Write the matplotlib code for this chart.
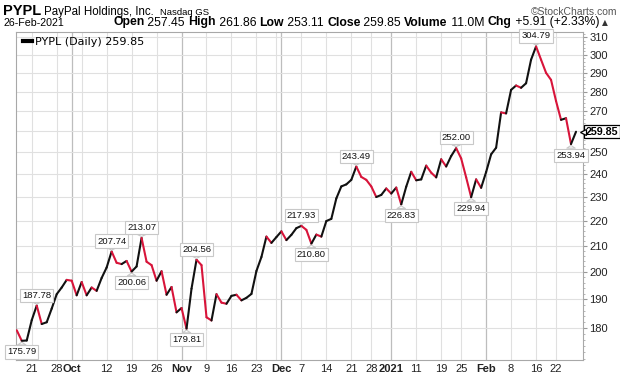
import numpy as np
import pandas as pd
import matplotlib
matplotlib.use("Agg")
import matplotlib.pyplot as plt
from matplotlib.collections import LineCollection
from matplotlib.lines import Line2D
from matplotlib.ticker import FixedLocator, NullFormatter, FixedFormatter

# ---------------- data ----------------
ticker = "PYPL"
company = "PayPal Holdings, Inc."
exchange = "Nasdaq GS"
last_date = "26-Feb-2021"
open_px, high_px, low_px, close_px = 257.45, 261.86, 253.11, 259.85
volume = "11.0M"
chg, chg_pct = 5.91, 2.33

holidays = ["2020-11-26", "2020-12-25", "2021-01-01", "2021-01-18", "2021-02-15"]
dates = pd.bdate_range("2020-09-16", "2021-02-26")
dates = dates[~dates.isin(pd.to_datetime(holidays))]

closes = [
    179.3, 175.79, 175.9, 182.7, 187.78, 181.4, 182.0, 186.7, 191.8, 194.2,
    197.0, 196.7, 191.4, 196.2, 191.4, 194.2, 193.0, 197.7, 201.6, 207.74,
    203.4, 202.9, 204.1, 200.06, 202.0, 213.07, 203.8, 202.5, 196.7, 200.2,
    191.6, 194.4, 185.4, 186.9, 179.81, 193.8, 204.56, 202.5, 183.7, 182.6,
    191.8, 188.8, 188.4, 191.2, 191.6, 189.6, 190.5, 191.9, 200.3, 205.6,
    213.6, 211.1, 213.4, 215.7, 212.2, 214.3, 217.0, 217.93, 216.3, 210.80,
    214.4, 213.6, 219.9, 220.8, 229.4, 234.6, 235.5, 237.5, 243.49, 238.8,
    237.5, 234.6, 230.0, 230.9, 233.7, 231.5, 234.1, 226.83, 234.5, 241.1,
    237.3, 237.7, 243.9, 240.7, 238.6, 246.8, 243.5, 248.3, 252.00, 247.2,
    238.6, 229.94, 237.7, 234.0, 241.0, 249.1, 252.2, 269.4, 268.9, 281.0,
    283.3, 282.1, 284.5, 297.3, 304.79, 297.3, 290.1, 286.3, 275.2, 265.7,
    266.5, 253.94, 259.85,
]
assert len(closes) == len(dates)

# annotated swing points (index, 'above'/'below')
ann_idx = [1, 4, 19, 23, 25, 34, 36, 57, 59, 68, 77, 88, 91, 104, 111]
ann_pos = ["below", "above", "above", "below", "above", "below", "above",
           "above", "below", "above", "below", "above", "below", "above", "below"]

y_ticks = list(range(180, 311, 10))

# ---------------- figure ----------------
W, H = 620, 376
fig = plt.figure(figsize=(W / 100, H / 100), dpi=100)
ax_l, ax_r, ax_t, ax_b = 16, 583, 32, 360
ax = fig.add_axes([ax_l / W, 1 - ax_b / H, (ax_r - ax_l) / W, (ax_b - ax_t) / H])

x = np.arange(len(closes))
y = np.array(closes)

ax.set_yscale("log")
ax.set_ylim(169.6, 313.1)
ax.set_xlim(-0.15, len(closes) + 0.4)

UP, DOWN = "#111111", "#d8143a"
segs = [[(x[i], y[i]), (x[i + 1], y[i + 1])] for i in range(len(y) - 1)]
cols = [DOWN if y[i + 1] < y[i] else UP for i in range(len(y) - 1)]
lc = LineCollection(segs, colors=cols, linewidths=1.5, capstyle="round",
                    joinstyle="round", zorder=3)
ax.add_collection(lc)

# ---- x ticks: week starts & month starts ----
d = pd.Series(dates)
week_start = [i for i in range(1, len(d)) if d[i].isocalendar()[1] != d[i - 1].isocalendar()[1]]
month_start = [i for i in range(1, len(d)) if d[i].month != d[i - 1].month]

tick_pos, tick_lab, tick_bold = [], [], []
for i in sorted(set(week_start) | set(month_start)):
    if i in month_start:
        lab = str(d[i].year) if d[i].month == 1 else d[i].strftime("%b")
        tick_pos.append(i); tick_lab.append(lab); tick_bold.append(True)
    else:
        if any(abs(i - m) <= 2 for m in month_start):
            continue
        tick_pos.append(i); tick_lab.append(str(d[i].day)); tick_bold.append(False)

for i in week_start:
    if i not in month_start:
        ax.axvline(i, color="#e0e0e0", lw=0.8, zorder=0)
for i in month_start:
    ax.axvline(i, color="#bdbdbd", lw=0.9, zorder=0)
for v in y_ticks:
    ax.axhline(v, color="#e0e0e0", lw=0.8, zorder=0)

ax.set_xticks(tick_pos)
ax.set_xticklabels(tick_lab)
for t, b in zip(ax.get_xticklabels(), tick_bold):
    t.set_fontfamily("Liberation Sans")
    t.set_fontsize(8)
    t.set_color("#222222")
    if b:
        t.set_fontweight("bold")
ax.tick_params(axis="x", length=0, pad=3)

# hide the axis label that the last-price tag sits on
y_labels = ["" if abs(np.log(v / closes[-1])) < 0.02 else str(v) for v in y_ticks]
ax.yaxis.tick_right()
ax.yaxis.set_major_locator(FixedLocator(y_ticks))
ax.yaxis.set_major_formatter(FixedFormatter(y_labels))
ax.yaxis.set_minor_locator(FixedLocator(np.arange(170, 314, 2)))
ax.yaxis.set_minor_formatter(NullFormatter())
ax.tick_params(axis="y", which="major", length=3, width=0.8, color="#999999",
               pad=1.5, labelsize=8, labelcolor="#222222")
ax.tick_params(axis="y", which="minor", length=1.5, width=0.6, color="#aaaaaa")
for t in ax.get_yticklabels():
    t.set_fontfamily("Liberation Sans")

for s in ax.spines.values():
    s.set_color("#a8a8a8")
    s.set_linewidth(0.8)

# ---- swing annotations ----
for i, pos in zip(ann_idx, ann_pos):
    off = 7.5 if pos == "above" else -8.0
    ax.annotate(f"{closes[i]:.2f}", xy=(x[i], y[i]), xytext=(0, off),
                textcoords="offset points", ha="center", va="center",
                fontsize=6.8, family="Liberation Sans", color="#111111",
                bbox=dict(boxstyle="square,pad=0.22", fc="white", ec="#c8c8c8", lw=0.8),
                arrowprops=dict(arrowstyle="wedge,tail_width=0.6", mutation_scale=10,
                                fc="white", ec="#c8c8c8", lw=0.8, shrinkA=0, shrinkB=1),
                zorder=5, annotation_clip=False)

# ---- last price tag on the axis ----
ax.annotate(f"{closes[-1]:.2f}", xy=(1.0, closes[-1]), xycoords=ax.get_yaxis_transform(),
            xytext=(2.2, 0), textcoords="offset points", ha="left", va="center",
            fontsize=7.7, fontweight="bold", family="Liberation Sans", color="black",
            bbox=dict(boxstyle="square,pad=0.15", fc="white", ec="black", lw=0.9),
            zorder=6, annotation_clip=False)
ax.plot([1.0], [closes[-1]], transform=ax.get_yaxis_transform(), marker="<",
        ms=4.5, mfc="white", mec="black", mew=0.9, clip_on=False, zorder=7)

# ---- legend ----
leg = ax.legend([Line2D([], [], color="black", lw=3)],
                [f"{ticker} (Daily) {closes[-1]:.2f}"],
                loc="upper left", bbox_to_anchor=(0.0, 1.005), frameon=False,
                handlelength=0.8, handletextpad=0.3, borderaxespad=0.2,
                prop={"family": "DejaVu Sans", "size": 8})

# ---- header ----
def fy(py):
    return 1 - py / H

fig.text(3 / W, fy(15), ticker, fontsize=10.5, fontweight="bold",
         family="Liberation Sans", va="baseline")
fig.text(44 / W, fy(15), company, fontsize=8.3, family="Liberation Sans", va="baseline")
fig.text(160 / W, fy(15), exchange, fontsize=6.8, family="Liberation Sans", va="baseline")
fig.text(617 / W, fy(15), "\u00a9StockCharts.com", fontsize=7.5, family="Liberation Sans",
         va="baseline", ha="right", color="#555555")
fig.text(3 / W, fy(25.5), last_date, fontsize=7.7, family="Liberation Sans", va="baseline")

pieces = [("Open", True), (f" {open_px:.2f} ", False), ("High", True), (f" {high_px:.2f} ", False),
          ("Low", True), (f" {low_px:.2f} ", False), ("Close", True), (f" {close_px:.2f} ", False),
          ("Volume", True), (f" {volume} ", False), ("Chg", True),
          (f" {chg:+.2f} ({chg_pct:+.2f}%) ", False)]
renderer = fig.canvas.get_renderer()
cx = 113
for txt, bold in pieces:
    t = fig.text(cx / W, fy(25.5), txt, fontsize=8.8, family="Liberation Sans",
                 fontweight="bold" if bold else "normal", va="baseline")
    cx += t.get_window_extent(renderer).width
fig.text(cx / W, fy(25.5), "\u25b2", fontsize=5.5, family=["DejaVu Sans"], va="baseline",
         color="#333333")

fig.savefig("out.png", dpi=100)
